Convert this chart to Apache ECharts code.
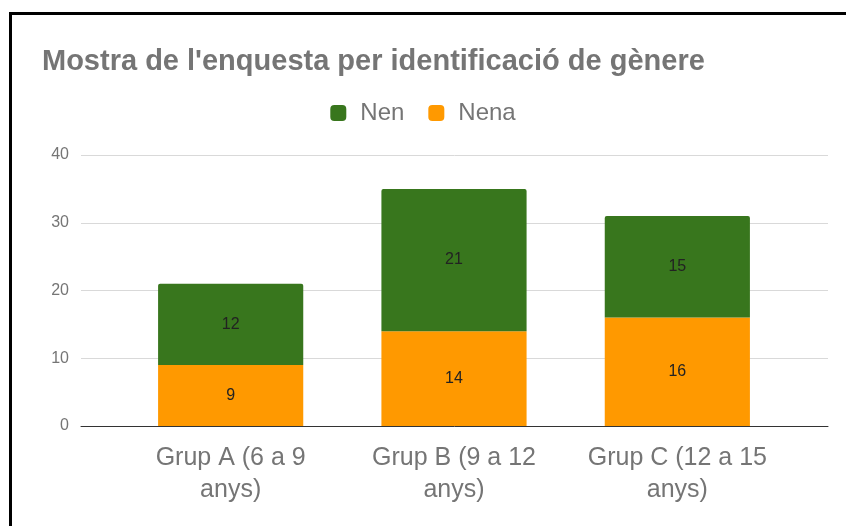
<!DOCTYPE html>
<html>
<head>
<meta charset="utf-8">
<script src="https://cdn.jsdelivr.net/npm/echarts@6/dist/echarts.min.js"></script>
<style>
  html, body { margin: 0; padding: 0; background: #fff; }
  #chart { width: 846px; height: 526px; }
  .frame {
    position: absolute; left: 9px; top: 12px; width: 900px; height: 600px;
    border-left: 3px solid #000; border-top: 3px solid #000;
    pointer-events: none;
  }
</style>
</head>
<body>
<div id="chart"></div>
<div class="frame"></div>
<script>
  // dades
  const categories = ['Grup A (6 a 9 anys)', 'Grup B (9 a 12 anys)', 'Grup C (12 a 15 anys)'];
  const nena = [9, 14, 16];
  const nen = [12, 21, 15];

  const font = 'Liberation Sans';
  const labelStyle = { show: true, position: 'inside', color: '#222', fontSize: 16, fontFamily: font };

  const chart = echarts.init(document.getElementById('chart'));
  chart.setOption({
    animation: false,
    title: {
      text: "Mostra de l'enquesta per identificació de gènere",
      left: 37,
      top: 42,
      textStyle: { color: '#757575', fontSize: 29, fontWeight: 'bold', fontFamily: font }
    },
    legend: {
      data: ['Nen', 'Nena'],
      top: 96,
      left: 'center',
      itemWidth: 16,
      itemHeight: 16,
      itemGap: 24,
      icon: 'roundRect',
      textStyle: { color: '#757575', fontSize: 24, fontFamily: font, padding: [0, 0, 0, 9] }
    },
    // grid 0: gridlines and base line across the full width, grid 1: the bars
    grid: [
      { left: 81, right: 18, top: 155, bottom: 100 },
      { left: 119, right: 57, top: 155, bottom: 100 }
    ],
    xAxis: [{
      gridIndex: 0,
      type: 'value',
      min: 0,
      max: 1,
      axisLabel: { show: false },
      axisTick: { show: false },
      splitLine: { show: false },
      axisLine: { show: true, lineStyle: { color: '#333', width: 1 } }
    }, {
      gridIndex: 1,
      type: 'category',
      data: categories,
      axisTick: { show: false },
      axisLine: { show: false },
      axisLabel: {
        interval: 0,
        hideOverlap: false,
        color: '#757575',
        fontSize: 25,
        fontFamily: font,
        lineHeight: 32,
        margin: 16,
        formatter: v => {
          const i = v.lastIndexOf(' ');
          return v.slice(0, i) + '\n' + v.slice(i + 1);
        }
      }
    }],
    yAxis: [{
      gridIndex: 0,
      type: 'value',
      min: 0,
      max: 40,
      interval: 10,
      axisLine: { show: false },
      axisTick: { show: false },
      splitLine: { lineStyle: { color: '#d9d9d9' } },
      axisLabel: { color: '#757575', fontSize: 16, fontFamily: font, margin: 12 }
    }, {
      gridIndex: 1,
      type: 'value',
      min: 0,
      max: 40,
      interval: 10,
      show: false
    }],
    series: [{
      name: 'Nena',
      type: 'bar',
      stack: 'total',
      xAxisIndex: 1,
      yAxisIndex: 1,
      barWidth: '65%',
      data: nena,
      itemStyle: { color: '#ff9900' },
      label: labelStyle
    }, {
      name: 'Nen',
      type: 'bar',
      stack: 'total',
      xAxisIndex: 1,
      yAxisIndex: 1,
      barWidth: '65%',
      data: nen,
      itemStyle: { color: '#38761d', borderRadius: [2, 2, 0, 0] },
      label: labelStyle
    }]
  });
</script>
</body>
</html>
